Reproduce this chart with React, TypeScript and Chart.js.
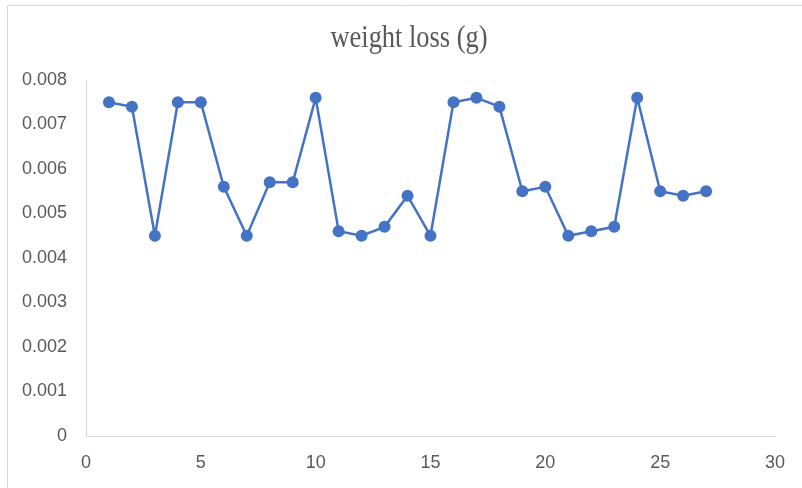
import React, { useEffect, useRef } from "react";
import { Chart, registerables } from "chart.js";

Chart.register(...registerables);

const TITLE = "weight loss (g)";
const xValues = [1, 2, 3, 4, 5, 6, 7, 8, 9, 10, 11, 12, 13, 14, 15, 16, 17, 18, 19, 20, 21, 22, 23, 24, 25, 26, 27];
const weightLoss = [
  0.0075, 0.0074, 0.0045, 0.0075, 0.0075, 0.0056, 0.0045, 0.0057, 0.0057, 0.0076,
  0.0046, 0.0045, 0.0047, 0.0054, 0.0045, 0.0075, 0.0076, 0.0074, 0.0055, 0.0056,
  0.0045, 0.0046, 0.0047, 0.0076, 0.0055, 0.0054, 0.0055,
];
const X_MIN = 0, X_MAX = 30, X_STEP = 5;
const Y_MIN = 0, Y_MAX = 0.008, Y_STEP = 0.001;

const frameAndTitle = {
  id: "frameAndTitle",
  beforeDraw(chart: any) {
    const ctx = chart.ctx;
    ctx.save();
    ctx.fillStyle = "#ffffff";
    ctx.fillRect(0, 0, chart.width, chart.height);
    ctx.strokeStyle = "#d9d9d9";
    ctx.lineWidth = 1;
    ctx.beginPath();
    ctx.moveTo(7.5, chart.height);
    ctx.lineTo(7.5, 5.5);
    ctx.lineTo(chart.width, 5.5);
    ctx.stroke();
    ctx.restore();
  },
  afterDraw(chart: any) {
    const ctx = chart.ctx;
    ctx.save();
    ctx.font = "31px 'Liberation Serif', serif";
    ctx.fillStyle = "#595959";
    ctx.textAlign = "center";
    ctx.textBaseline = "alphabetic";
    const w = ctx.measureText(TITLE).width;
    const sx = 157 / w;
    ctx.translate(409, 47);
    ctx.scale(sx, 1);
    ctx.fillText(TITLE, 0, 0);
    ctx.restore();
  },
};

export default function App() {
  const ref = useRef<HTMLCanvasElement | null>(null);
  useEffect(() => {
    if (!ref.current) return;
    const data = xValues.map((x, i) => ({ x, y: weightLoss[i] }));
    const tickFont = { family: "'Liberation Sans', Arial, sans-serif", size: 18 };
    const chart = new Chart(ref.current, {
      type: "line",
      data: {
        datasets: [
          {
            label: TITLE,
            data,
            borderColor: "#4472C4",
            backgroundColor: "#4472C4",
            borderWidth: 2.5,
            pointRadius: 6,
            pointBorderWidth: 0,
            pointBackgroundColor: "#4472C4",
            tension: 0,
            fill: false,
          },
        ],
      },
      options: {
        animation: false,
        responsive: false,
        maintainAspectRatio: false,
        devicePixelRatio: 1,
        layout: { padding: { left: 0, right: 27, top: 80, bottom: 0 } },
        plugins: {
          legend: { display: false },
          title: { display: false },
          tooltip: { enabled: false },
        },
        scales: {
          x: {
            type: "linear",
            min: X_MIN,
            max: X_MAX,
            ticks: { stepSize: X_STEP, color: "#595959", font: tickFont, padding: 16, maxRotation: 0 },
            grid: { display: true, drawOnChartArea: false, drawTicks: false },
            border: { display: true, color: "#d9d9d9", width: 1 },
            afterFit: (s: any) => { s.height = 52; },
          },
          y: {
            type: "linear",
            min: Y_MIN,
            max: Y_MAX,
            ticks: {
              stepSize: Y_STEP,
              color: "#595959",
              font: tickFont,
              padding: 19,
              callback: (v: any) => (Number(v) === 0 ? "0" : Number(v).toFixed(3)),
            },
            grid: { display: true, drawOnChartArea: false, drawTicks: false },
            border: { display: true, color: "#d9d9d9", width: 1 },
            afterFit: (s: any) => { s.width = 86; },
          },
        },
      },
      plugins: [frameAndTitle],
    });
    return () => chart.destroy();
  }, []);
  return (
    <div style={{ position: "fixed", left: 0, top: 0, width: 802, height: 488, background: "#fff" }}>
      <canvas ref={ref} width={802} height={488} style={{ display: "block", width: 802, height: 488 }} />
    </div>
  );
}
